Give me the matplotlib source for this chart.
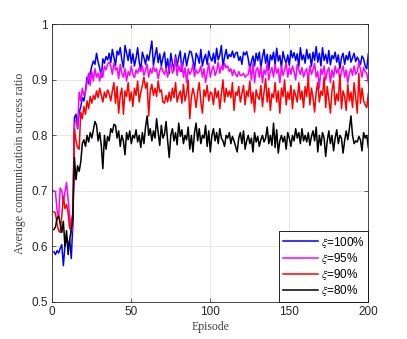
import numpy as np
import matplotlib
matplotlib.use('Agg')
import matplotlib.pyplot as plt

# Average communication success ratio per episode
blue_100 = [
    0.590, 0.585, 0.592, 0.588, 0.596, 0.603, 0.565, 0.600, 0.618, 0.598,
    0.612, 0.578, 0.640, 0.832, 0.838, 0.812, 0.842, 0.851, 0.868, 0.862,
    0.881, 0.905, 0.893, 0.912, 0.925, 0.934, 0.928, 0.948, 0.932, 0.921,
    0.905, 0.938, 0.930, 0.942, 0.936, 0.948, 0.931, 0.955, 0.940, 0.926,
    0.952, 0.945, 0.958, 0.936, 0.922, 0.962, 0.948, 0.935, 0.955, 0.930,
    0.947, 0.925, 0.939, 0.958, 0.932, 0.918, 0.950, 0.940, 0.928, 0.945,
    0.935, 0.952, 0.970, 0.926, 0.943, 0.958, 0.931, 0.947, 0.925, 0.940,
    0.950, 0.921, 0.938, 0.912, 0.948, 0.930, 0.918, 0.945, 0.925, 0.941,
    0.952, 0.915, 0.935, 0.948, 0.925, 0.940, 0.952, 0.950, 0.935, 0.918,
    0.948, 0.942, 0.930, 0.955, 0.925, 0.938, 0.946, 0.928, 0.952, 0.940,
    0.934, 0.948, 0.930, 0.957, 0.936, 0.945, 0.962, 0.925, 0.941, 0.955,
    0.938, 0.946, 0.942, 0.952, 0.940, 0.948, 0.950, 0.935, 0.942, 0.928,
    0.950, 0.945, 0.951, 0.938, 0.920, 0.933, 0.943, 0.925, 0.948, 0.935,
    0.950, 0.922, 0.941, 0.955, 0.930, 0.946, 0.918, 0.945, 0.936, 0.950,
    0.927, 0.957, 0.934, 0.944, 0.921, 0.951, 0.938, 0.930, 0.945, 0.926,
    0.953, 0.940, 0.949, 0.935, 0.947, 0.924, 0.958, 0.936, 0.945, 0.930,
    0.955, 0.938, 0.947, 0.924, 0.950, 0.935, 0.960, 0.932, 0.948, 0.925,
    0.958, 0.935, 0.946, 0.930, 0.953, 0.927, 0.944, 0.938, 0.950, 0.932,
    0.945, 0.920, 0.940, 0.948, 0.928, 0.944, 0.936, 0.951, 0.932, 0.940,
    0.948, 0.933, 0.941, 0.935, 0.928, 0.943, 0.938, 0.925, 0.920, 0.947,
]

magenta_95 = [
    0.700, 0.698, 0.665, 0.652, 0.705, 0.700, 0.680, 0.698, 0.715, 0.685,
    0.652, 0.622, 0.640, 0.822, 0.826, 0.815, 0.878, 0.862, 0.885, 0.872,
    0.878, 0.896, 0.912, 0.890, 0.915, 0.898, 0.920, 0.905, 0.912, 0.898,
    0.915, 0.905, 0.925, 0.918, 0.928, 0.932, 0.925, 0.910, 0.930, 0.918,
    0.922, 0.902, 0.928, 0.912, 0.905, 0.920, 0.898, 0.915, 0.908, 0.925,
    0.910, 0.904, 0.918, 0.912, 0.922, 0.915, 0.925, 0.908, 0.918, 0.928,
    0.905, 0.920, 0.912, 0.925, 0.915, 0.920, 0.902, 0.916, 0.924, 0.915,
    0.910, 0.920, 0.905, 0.922, 0.930, 0.912, 0.918, 0.940, 0.908, 0.925,
    0.915, 0.930, 0.905, 0.922, 0.895, 0.920, 0.910, 0.915, 0.928, 0.906,
    0.918, 0.912, 0.915, 0.925, 0.905, 0.920, 0.895, 0.912, 0.930, 0.905,
    0.918, 0.925, 0.908, 0.915, 0.932, 0.912, 0.925, 0.918, 0.930, 0.922,
    0.925, 0.915, 0.920, 0.908, 0.918, 0.910, 0.906, 0.915, 0.908, 0.908,
    0.912, 0.905, 0.908, 0.910, 0.925, 0.900, 0.930, 0.895, 0.918, 0.922,
    0.905, 0.925, 0.895, 0.918, 0.910, 0.930, 0.900, 0.915, 0.922, 0.905,
    0.928, 0.912, 0.920, 0.895, 0.925, 0.908, 0.918, 0.930, 0.905, 0.922,
    0.910, 0.925, 0.915, 0.900, 0.928, 0.918, 0.910, 0.922, 0.905, 0.915,
    0.920, 0.898, 0.925, 0.910, 0.918, 0.930, 0.905, 0.915, 0.885, 0.920,
    0.910, 0.925, 0.900, 0.915, 0.922, 0.895, 0.918, 0.905, 0.925, 0.912,
    0.920, 0.900, 0.915, 0.925, 0.905, 0.918, 0.895, 0.912, 0.920, 0.908,
    0.925, 0.910, 0.915, 0.932, 0.918, 0.905, 0.922, 0.915, 0.912, 0.895,
]

red_90 = [
    0.662, 0.660, 0.640, 0.628, 0.625, 0.655, 0.690, 0.668, 0.675, 0.660,
    0.632, 0.645, 0.660, 0.812, 0.790, 0.778, 0.775, 0.842, 0.830, 0.852,
    0.838, 0.862, 0.848, 0.870, 0.858, 0.872, 0.865, 0.880, 0.868, 0.885,
    0.872, 0.860, 0.878, 0.868, 0.882, 0.875, 0.862, 0.880, 0.895, 0.858,
    0.888, 0.840, 0.872, 0.885, 0.838, 0.880, 0.870, 0.895, 0.862, 0.878,
    0.852, 0.885, 0.872, 0.898, 0.860, 0.878, 0.890, 0.905, 0.885, 0.895,
    0.835, 0.880, 0.892, 0.872, 0.885, 0.870, 0.898, 0.878, 0.882, 0.860,
    0.858, 0.872, 0.860, 0.878, 0.862, 0.885, 0.868, 0.895, 0.860, 0.872,
    0.880, 0.858, 0.892, 0.862, 0.875, 0.900, 0.830, 0.868, 0.885, 0.872,
    0.850, 0.878, 0.895, 0.860, 0.840, 0.882, 0.870, 0.890, 0.862, 0.878,
    0.875, 0.855, 0.885, 0.868, 0.880, 0.848, 0.875, 0.900, 0.860, 0.885,
    0.870, 0.880, 0.868, 0.895, 0.845, 0.878, 0.872, 0.888, 0.860, 0.875,
    0.890, 0.855, 0.880, 0.870, 0.898, 0.858, 0.878, 0.842, 0.882, 0.870,
    0.865, 0.890, 0.852, 0.878, 0.902, 0.860, 0.885, 0.845, 0.875, 0.868,
    0.895, 0.860, 0.880, 0.840, 0.885, 0.870, 0.900, 0.855, 0.878, 0.865,
    0.890, 0.848, 0.882, 0.872, 0.860, 0.895, 0.865, 0.880, 0.850, 0.888,
    0.870, 0.905, 0.855, 0.885, 0.868, 0.842, 0.878, 0.895, 0.860, 0.880,
    0.872, 0.905, 0.850, 0.888, 0.865, 0.840, 0.880, 0.898, 0.855, 0.875,
    0.862, 0.910, 0.848, 0.880, 0.870, 0.845, 0.892, 0.862, 0.878, 0.850,
    0.895, 0.868, 0.840, 0.912, 0.858, 0.885, 0.862, 0.855, 0.850, 0.875,
]

black_80 = [
    0.630, 0.635, 0.650, 0.655, 0.640, 0.625, 0.645, 0.600, 0.628, 0.585,
    0.612, 0.630, 0.648, 0.760, 0.720, 0.745, 0.735, 0.752, 0.785, 0.792,
    0.780, 0.800, 0.788, 0.805, 0.795, 0.810, 0.825, 0.818, 0.790, 0.805,
    0.782, 0.740, 0.800, 0.775, 0.798, 0.790, 0.812, 0.805, 0.820, 0.818,
    0.795, 0.808, 0.780, 0.800, 0.790, 0.765, 0.805, 0.792, 0.808, 0.785,
    0.800, 0.795, 0.810, 0.788, 0.800, 0.778, 0.805, 0.785, 0.815, 0.835,
    0.800, 0.812, 0.790, 0.808, 0.795, 0.830, 0.805, 0.782, 0.818, 0.795,
    0.802, 0.825, 0.790, 0.760, 0.800, 0.812, 0.790, 0.805, 0.783, 0.822,
    0.798, 0.810, 0.785, 0.800, 0.792, 0.815, 0.775, 0.800, 0.770, 0.805,
    0.822, 0.790, 0.812, 0.785, 0.800, 0.795, 0.818, 0.780, 0.808, 0.770,
    0.800, 0.812, 0.790, 0.805, 0.785, 0.812, 0.795, 0.790, 0.780, 0.800,
    0.795, 0.805, 0.785, 0.798, 0.790, 0.780, 0.770, 0.795, 0.805, 0.785,
    0.808, 0.775, 0.790, 0.800, 0.785, 0.795, 0.770, 0.805, 0.788, 0.798,
    0.780, 0.792, 0.800, 0.788, 0.795, 0.815, 0.785, 0.800, 0.782, 0.822,
    0.778, 0.810, 0.768, 0.790, 0.800, 0.788, 0.798, 0.775, 0.805, 0.795,
    0.780, 0.800, 0.790, 0.812, 0.795, 0.805, 0.785, 0.812, 0.790, 0.800,
    0.788, 0.805, 0.782, 0.798, 0.808, 0.790, 0.815, 0.770, 0.800, 0.782,
    0.805, 0.795, 0.762, 0.790, 0.808, 0.785, 0.800, 0.772, 0.795, 0.810,
    0.785, 0.800, 0.795, 0.768, 0.790, 0.808, 0.792, 0.812, 0.835, 0.800,
    0.785, 0.790, 0.788, 0.798, 0.792, 0.772, 0.805, 0.795, 0.800, 0.778,
]

labels = [r'$\xi$=100%', r'$\xi$=95%', r'$\xi$=90%', r'$\xi$=80%']
colors = ['#0000ff', '#ff00ff', '#ff0000', '#000000']
x_ticks = [0, 50, 100, 150, 200]
y_ticks = [0.5, 0.6, 0.7, 0.8, 0.9, 1.0]
y_ticklabels = ['0.5', '0.6', '0.7', '0.8', '0.9', '1']

plt.rcParams['mathtext.fontset'] = 'stix'
plt.rcParams['font.family'] = ['Liberation Sans', 'DejaVu Sans']

fig = plt.figure(figsize=(4.07, 3.39), dpi=100)
ax = fig.add_axes([0.1285, 0.110, 0.7765, 0.818])

episodes = np.arange(1, len(blue_100) + 1)
for series, color, label in zip([blue_100, magenta_95, red_90, black_80], colors, labels):
    ax.plot(episodes, series, color=color, lw=1.1, label=label)

ax.set_xlim(0, 200)
ax.set_ylim(0.5, 1.0)
ax.set_xticks(x_ticks)
ax.set_yticks(y_ticks)
ax.set_yticklabels(y_ticklabels)
ax.grid(True, color='#e3e3e3', lw=0.6)
ax.set_axisbelow(True)

edge = '#262626'
for s in ax.spines.values():
    s.set_color(edge)
    s.set_linewidth(0.6)
ax.tick_params(direction='in', length=3, width=0.5, color=edge,
               labelsize=8.5, labelcolor=edge, top=True, right=True, pad=3)

serif = ['Liberation Serif', 'DejaVu Serif']
ax.set_xlabel('Episode', family=serif, fontsize=8.5, color='#404040', labelpad=2)
ax.set_ylabel('Average communicatioin success ratio', family=serif, fontsize=8.5,
              color='#404040', labelpad=4)

leg = ax.legend(loc='lower right', fontsize=8.5, frameon=True, fancybox=False,
                edgecolor='#000000', framealpha=1, borderaxespad=0,
                handlelength=3.0, handletextpad=0.25, labelspacing=0.1,
                borderpad=0.3)
leg.get_frame().set_linewidth(0.6)

fig.savefig('out.png', dpi=100)
